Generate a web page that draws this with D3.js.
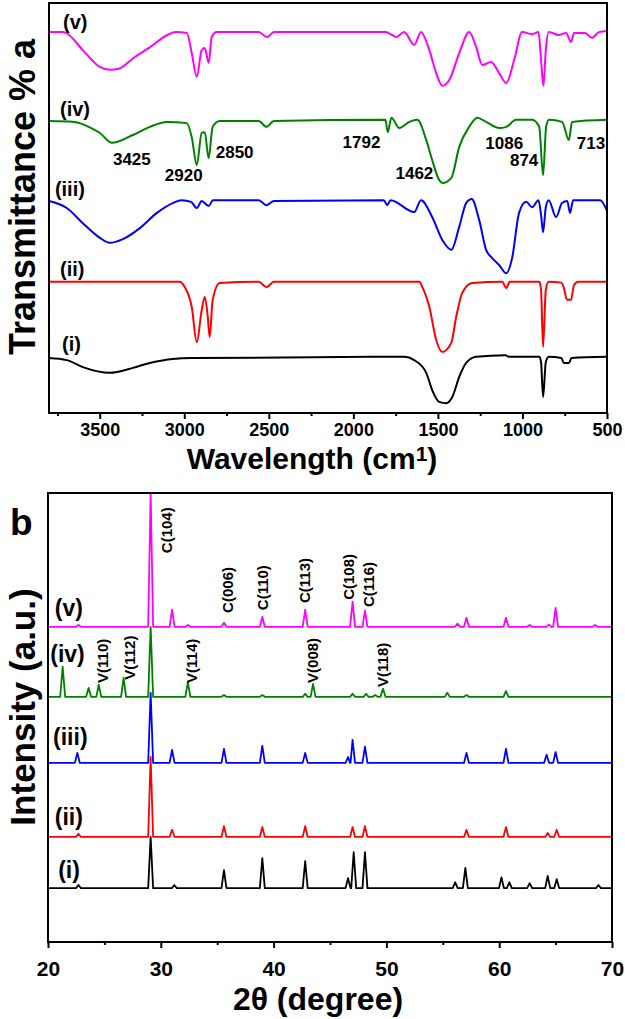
<!DOCTYPE html>
<html>
<head>
<meta charset="utf-8">
<script src="https://cdn.jsdelivr.net/npm/d3@7"></script>
<style>
  body { margin: 0; background: #fff; }
  svg text { font-family: "Liberation Sans", Arial, sans-serif; font-weight: bold; fill: #000; }
</style>
</head>
<body>
<div id="chart"></div>
<script>
// ---- data ----
// FTIR spectra, [wavenumber cm-1, stacked transmittance (a.u.)]
const ftirI = [[3800,13.4],[3695,12.9],[3600,11.2],[3440,9.8],[3304,11.0],[3204,12.2],[3068,13.2],[2950,13.4],
  [1700,13.7],[1640,12.9],[1569,9.8],[1534,5.6],[1492,2.7],[1451,2.4],[1415,3.9],[1374,8.8],[1333,12.2],[1274,13.7],
  [1100,14.1],[1080,13.7],[900,13.7],[890,12.4],[878,3.9],[862,12.4],[845,13.7],[770,13.4],[755,12.2],[725,12.2],
  [710,13.4],[500,13.7]];
const ftirII = [[3800,32.0],[3027,32.0],[2997,30.7],[2956,25.9],[2926,17.3],[2897,25.1],[2879,28.3],[2861,23.4],
  [2850,18.5],[2832,27.6],[2790,31.7],[2560,32.0],[2513,30.7],[2470,32.0],[1610,32.0],[1592,30.7],[1551,25.9],
  [1510,17.8],[1474,14.9],[1421,17.1],[1392,23.4],[1356,29.3],[1297,31.7],[1120,32.0],[1096,30.5],[1075,32.0],
  [900,32.0],[890,30.0],[878,16.1],[862,30.0],[845,32.0],[770,31.8],[755,30.5],[737,27.6],[713,27.6],[695,31.2],
  [670,32.0],[500,32.0]];
const ftirIII = [[3800,51.7],[3695,50.0],[3600,46.3],[3499,42.7],[3440,41.5],[3363,42.4],[3263,45.1],[3162,48.8],
  [3068,51.2],[3015,51.9],[2960,51.5],[2926,50.0],[2897,51.7],[2856,50.5],[2830,51.9],[2560,51.9],[2513,50.7],
  [2470,51.7],[1820,51.9],[1800,50.7],[1780,51.9],[1640,49.0],[1600,51.9],[1534,47.8],[1474,42.2],[1421,39.8],
  [1374,45.4],[1333,51.2],[1300,52.2],[1256,47.1],[1215,39.8],[1179,37.8],[1138,36.1],[1096,34.1],[1061,37.8],
  [1020,48.8],[978,51.5],[943,50.2],[905,51.9],[890,48.3],[878,44.1],[862,50.2],[845,51.9],[801,47.8],[766,51.2],
  [735,51.7],[719,48.8],[700,51.9],[540,51.9],[500,49.3]];
const ftirIV = [[3800,71.2],[3650,71.0],[3550,69.5],[3499,68.3],[3428,65.9],[3304,67.8],[3204,69.8],[3103,71.0],
  [2985,70.7],[2956,67.3],[2926,60.5],[2897,68.3],[2879,68.5],[2856,62.2],[2832,69.8],[2790,71.2],[2560,71.2],
  [2513,69.8],[2470,71.2],[1810,71.5],[1797,68.5],[1775,72.0],[1728,69.5],[1669,71.0],[1622,71.5],[1569,66.6],
  [1534,61.7],[1492,56.8],[1474,56.1],[1421,57.3],[1374,64.9],[1315,69.8],[1267,72.0],[1215,71.0],[1138,69.5],
  [1096,69.8],[1037,71.5],[943,71.5],[901,69.8],[878,58.0],[860,69.8],[843,71.5],[766,71.0],[725,66.6],[707,71.0],
  [500,71.5]];
const ftirV = [[3800,92.9],[3720,92.9],[3700,92.7],[3600,88.5],[3500,84.4],[3440,83.7],[3380,84.1],[3300,86.6],
  [3200,89.3],[3100,92.2],[3050,92.9],[2985,92.7],[2956,87.8],[2926,82.0],[2897,88.5],[2879,89.0],[2855,85.4],
  [2838,91.7],[2808,92.9],[2560,92.9],[2510,91.7],[2470,92.9],[1810,92.9],[1780,92.4],[1745,91.7],[1700,92.9],
  [1640,89.8],[1600,92.9],[1551,88.5],[1510,82.9],[1474,79.8],[1433,81.2],[1374,87.8],[1315,92.9],[1274,89.3],
  [1238,84.9],[1185,85.6],[1138,82.9],[1096,80.5],[1049,86.1],[1002,92.9],[943,92.4],[905,92.9],[890,86.1],
  [876,79.8],[862,88.5],[845,92.9],[784,92.2],[742,92.7],[713,90.5],[695,92.7],[630,92.7],[589,91.5],[548,92.9],
  [500,93.2]];

// XRD patterns: baseline level and peaks [2theta, height above baseline]
const xrdBase = [12.0, 23.4, 39.9, 54.6, 70.2];
const xrdI = [[22.7,0.7],[29.1,11.4],[31.2,0.7],[35.6,4.0],[39.0,6.7],[42.8,6.0],[46.6,2.2],[47.1,8.0],[48.1,8.0],
  [56.1,1.3],[57.0,4.5],[60.2,2.4],[60.9,1.3],[62.7,1.1],[64.3,2.7],[65.1,2.0],[68.8,0.7]];
const xrdII = [[22.7,0.7],[29.1,17.8],[31.0,1.6],[35.6,2.4],[39.0,2.2],[42.8,2.4],[47.0,2.2],[48.1,2.4],[57.1,1.6],
  [60.6,2.2],[64.3,0.9],[65.1,1.6]];
const xrdIII = [[22.6,2.2],[29.1,15.6],[31.0,2.9],[35.6,3.1],[39.0,3.8],[42.8,2.2],[46.6,1.3],[47.0,5.1],[48.1,3.6],
  [57.1,2.2],[60.6,3.1],[64.2,1.8],[65.0,2.4]];
const xrdIV = [[21.3,6.7],[23.6,2.0],[24.5,2.7],[26.7,4.2],[29.1,15.6],[32.4,3.3],[35.6,0.4],[39.0,0.4],[42.8,0.7],
  [43.5,2.9],[47.0,0.7],[48.2,0.7],[49.0,0.4],[49.7,1.8],[55.4,0.9],[57.1,0.4],[60.6,1.3]];
const xrdV = [[22.7,0.4],[29.1,29.8],[31.0,3.8],[32.4,0.4],[35.6,0.9],[39.0,2.2],[42.8,3.8],[47.0,5.6],[48.1,3.6],
  [56.3,0.7],[57.1,2.0],[60.6,2.0],[62.7,0.4],[64.4,0.5],[65.0,4.2],[68.5,0.4]];

const sampleNames = ["(i)", "(ii)", "(iii)", "(iv)", "(v)"];
const sampleColors = ["#000000", "#ff0000", "#0000ff", "#008000", "#ff00ff"];

// annotation anchors in data units
const ftirNameAt = [[3723,15.1],[3735,33.4],[3765,52.9],[3735,72.4],[3717,93.7]];
const ftirBands = [["3425",3310,60.5],["2920",3003,56.6],["2850",2702,62.2],["1792",1952,64.6],
  ["1462",1639,57.1],["1086",1108,64.4],["874",990,60.2],["713",595,64.4]];
const xrdNameAt = [[20.9,14.3],[20.6,26.1],[20.45,43.9],[20.2,62.4],[20.6,72.6]];
const xrdPlanes = [["C(104)",30.97,86.6],["C(006)",36.37,73.3],["C(110)",39.47,73.9],["C(113)",43.19,75.5],
  ["C(108)",47.17,76.2],["C(116)",48.94,74.6],["V(110)",25.31,57.7],["V(112)",27.70,58.4],["V(114)",33.19,57.7],
  ["V(008)",43.98,57.7],["V(118)",50.18,56.8]];

const ftirMajor = [3500, 3000, 2500, 2000, 1500, 1000, 500];
const ftirMinor = [3750, 3250, 2750, 2250, 1750, 1250, 750];
const xrdMajor = [20, 30, 40, 50, 60, 70];
const xrdMinor = [25, 35, 45, 55, 65];

// ---- chart ----
const W = 625, H = 1019;
const svg = d3.select("#chart").append("svg").attr("width", W).attr("height", H);

function frame(g, x, y, major, minor, labelY, tickFont) {
  const [x0, x1] = x.range();
  const [y0, y1] = y.range();
  g.append("g")
    .attr("transform", `translate(0,${y0})`)
    .call(d3.axisBottom(x).tickValues(minor).tickSize(3).tickSizeOuter(0).tickFormat(""))
    .call((a) => a.select(".domain").remove())
    .selectAll("line").attr("stroke", "#000").attr("stroke-width", 2);
  const ax = g.append("g")
    .attr("transform", `translate(0,${y0})`)
    .call(d3.axisBottom(x).tickValues(major).tickSize(6).tickSizeOuter(0).tickFormat(d3.format("d")));
  ax.select(".domain").remove();
  ax.selectAll("line").attr("stroke", "#000").attr("stroke-width", 2);
  ax.selectAll("text")
    .attr("y", labelY)
    .attr("dy", null)
    .style("font-size", tickFont + "px")
    .style("font-family", '"Liberation Sans", Arial, sans-serif')
    .style("font-weight", "bold");
  g.append("rect")
    .attr("x", x0).attr("y", y1)
    .attr("width", x1 - x0).attr("height", y0 - y1)
    .attr("fill", "none").attr("stroke", "#000").attr("stroke-width", 2);
}

// panel a: FTIR
const xa = d3.scaleLinear().domain([3800, 500]).range([49, 607]);
const ya = d3.scaleLinear().domain([0, 100]).range([413, 3]);
const ga = svg.append("g");

const ftirLine = d3.line()
  .x((d) => xa(d[0]))
  .y((d) => ya(d[1]))
  .curve(d3.curveMonotoneX);

[ftirI, ftirII, ftirIII, ftirIV, ftirV].forEach((s, i) => {
  ga.append("path")
    .datum(s)
    .attr("fill", "none")
    .attr("stroke", sampleColors[i])
    .attr("stroke-width", 2)
    .attr("stroke-linejoin", "round")
    .attr("d", ftirLine);
});

frame(ga, xa, ya, ftirMajor, ftirMinor, 23, 18);

ga.selectAll(".name")
  .data(sampleNames)
  .join("text")
  .attr("class", "name")
  .attr("x", (d, i) => xa(ftirNameAt[i][0]))
  .attr("y", (d, i) => ya(ftirNameAt[i][1]))
  .style("font-size", "20px")
  .text((d) => d);

ga.selectAll(".band")
  .data(ftirBands)
  .join("text")
  .attr("class", "band")
  .attr("x", (d) => xa(d[1]))
  .attr("y", (d) => ya(d[2]))
  .attr("text-anchor", "middle")
  .style("font-size", "17px")
  .text((d) => d[0]);

// y title (rotated, with panel letter)
ga.append("text")
  .attr("transform", "translate(35,197) rotate(-90)")
  .attr("text-anchor", "middle")
  .style("font-size", "36px")
  .text("Transmittance % a");

const xTitleA = ga.append("text")
  .attr("x", 312).attr("y", 469)
  .attr("text-anchor", "middle")
  .style("font-size", "30px");
xTitleA.append("tspan").text("Wavelength (cm");
xTitleA.append("tspan").attr("dy", -8).style("font-size", "21px").text("1");
xTitleA.append("tspan").attr("dy", 8).text(")");

// panel b: XRD
const xb = d3.scaleLinear().domain([20, 70]).range([48, 612]);
const yb = d3.scaleLinear().domain([0, 100]).range([942, 493]);
const gb = svg.append("g");

const halfWidth = 0.22; // drawn peak half width at base, degrees
const xrdLine = d3.line().x((d) => xb(d[0])).y((d) => yb(d[1]));

[xrdI, xrdII, xrdIII, xrdIV, xrdV].forEach((peaks, i) => {
  const base = xrdBase[i];
  const pts = [[20, base]];
  peaks.forEach(([p, h]) => {
    pts.push([p - halfWidth, base], [p, base + h], [p + halfWidth, base]);
  });
  pts.push([70, base]);
  pts.sort((a, b) => a[0] - b[0]);
  gb.append("path")
    .datum(pts)
    .attr("fill", "none")
    .attr("stroke", sampleColors[i])
    .attr("stroke-width", 1.8)
    .attr("stroke-linejoin", "round")
    .attr("d", xrdLine);
});

frame(gb, xb, yb, xrdMajor, xrdMinor, 34, 21);

gb.selectAll(".name")
  .data(sampleNames)
  .join("text")
  .attr("class", "name")
  .attr("x", (d, i) => xb(xrdNameAt[i][0]))
  .attr("y", (d, i) => yb(xrdNameAt[i][1]))
  .style("font-size", "23px")
  .text((d) => d);

gb.selectAll(".plane")
  .data(xrdPlanes)
  .join("text")
  .attr("class", "plane")
  .attr("transform", (d) => `translate(${xb(d[1])},${yb(d[2])}) rotate(-90)`)
  .style("font-size", "15px")
  .text((d) => d[0]);

gb.append("text")
  .attr("x", 10).attr("y", 535)
  .style("font-size", "37px")
  .text("b");

gb.append("text")
  .attr("transform", "translate(35,707) rotate(-90)")
  .attr("text-anchor", "middle")
  .style("font-size", "35px")
  .text("Intensity (a.u.)");

gb.append("text")
  .attr("x", 318).attr("y", 1010)
  .attr("text-anchor", "middle")
  .style("font-size", "32px")
  .text("2θ (degree)");
</script>
</body>
</html>
